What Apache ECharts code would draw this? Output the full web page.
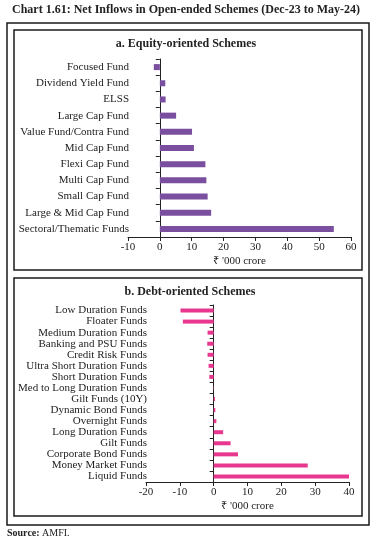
<!DOCTYPE html>
<html>
<head>
<meta charset="utf-8">
<script src="https://cdn.jsdelivr.net/npm/echarts@6/dist/echarts.min.js"></script>
<style>
  html, body { margin: 0; padding: 0; background: #fff; }
  #chart { width: 377px; height: 545px; }
</style>
</head>
<body>
<div id="chart"></div>
<script>
var myChart = echarts.init(document.getElementById('chart'));

// panel a: equity-oriented (top to bottom)
var equityNames = ['Focused Fund', 'Dividend Yield Fund', 'ELSS', 'Large Cap Fund',
  'Value Fund/Contra Fund', 'Mid Cap Fund', 'Flexi Cap Fund', 'Multi Cap Fund',
  'Small Cap Fund', 'Large & Mid Cap Fund', 'Sectoral/Thematic Funds'];
var equityValues = [-1.9, 1.7, 1.8, 5.1, 10.1, 10.7, 14.3, 14.6, 15.0, 16.1, 54.6];

// panel b: debt-oriented (top to bottom)
var debtNames = ['Low Duration Funds', 'Floater Funds', 'Medium Duration Funds',
  'Banking and PSU Funds', 'Credit Risk Funds', 'Ultra Short Duration Funds',
  'Short Duration Funds', 'Med to Long Duration Funds', 'Gilt Funds (10Y)',
  'Dynamic Bond Funds', 'Overnight Funds', 'Long Duration Funds', 'Gilt Funds',
  'Corporate Bond Funds', 'Money Market Funds', 'Liquid Funds'];
var debtValues = [-9.8, -9.1, -1.8, -1.9, -1.8, -1.5, -1.3, -0.1, 0.4, 0.5, 0.8,
  2.8, 5.0, 7.2, 27.8, 40.2];

var font = 'Liberation Serif';
var txt = '#222';

function frame(x, y, w, h) {
  return {
    type: 'rect', silent: true,
    shape: { x: x, y: y, width: w, height: h },
    style: { fill: 'none', stroke: '#1a1a1a', lineWidth: 1.5 }
  };
}

function valueAxis(idx, min, max) {
  return {
    type: 'value', gridIndex: idx, min: min, max: max, interval: 10,
    name: "₹ '000 crore", nameLocation: 'middle', nameGap: 19,
    nameTextStyle: { fontFamily: font, fontSize: 11, color: txt },
    axisLine: { show: true, lineStyle: { color: '#222' } },
    axisTick: { show: true, length: 4, lineStyle: { color: '#222' } },
    axisLabel: { fontFamily: font, fontSize: 11, color: txt, margin: 5 },
    splitLine: { show: false }
  };
}

function catAxis(idx, names, margin) {
  return {
    type: 'category', gridIndex: idx, data: names, inverse: true,
    axisLine: { onZero: true, lineStyle: { color: '#222' } },
    axisTick: { show: true, length: 4, lineStyle: { color: '#222' } },
    axisLabel: { fontFamily: font, fontSize: 11, color: txt, margin: margin, interval: 0 }
  };
}

var option = {
  animation: false,
  textStyle: { fontFamily: font },
  title: [
    { text: 'Chart 1.61: Net Inflows in Open-ended Schemes (Dec-23 to May-24)',
      left: 12, top: 4, padding: 0,
      textStyle: { fontFamily: font, fontSize: 12, fontWeight: 'bold', color: txt } },
    { text: 'a. Equity-oriented Schemes', left: 186, top: 38, padding: 0, textAlign: 'center',
      textStyle: { fontFamily: font, fontSize: 12, fontWeight: 'bold', color: txt } },
    { text: 'b. Debt-oriented Schemes', left: 190, top: 286, padding: 0, textAlign: 'center',
      textStyle: { fontFamily: font, fontSize: 12, fontWeight: 'bold', color: txt } },
    { text: '{b|Source:} AMFI.', left: 7, top: 528, padding: 0,
      textStyle: { fontFamily: font, fontSize: 10, fontWeight: 'normal', color: txt,
        rich: { b: { fontFamily: font, fontSize: 10, fontWeight: 'bold', color: txt } } } }
  ],
  graphic: [
    frame(7, 23, 362, 502),
    frame(14, 30, 348, 240),
    frame(14, 278, 348, 238)
  ],
  grid: [
    { left: 128, right: 26, top: 59, bottom: 308, outerBoundsMode: 'none', containLabel: false },
    { left: 146, right: 28, top: 305, bottom: 63, outerBoundsMode: 'none', containLabel: false }
  ],
  xAxis: [valueAxis(0, -10, 60), valueAxis(1, -20, 40)],
  yAxis: [catAxis(0, equityNames, -1), catAxis(1, debtNames, -1)],
  series: [
    { name: 'Equity', type: 'bar', xAxisIndex: 0, yAxisIndex: 0,
      data: equityValues, barWidth: 6, itemStyle: { color: '#7b4f9f' } },
    { name: 'Debt', type: 'bar', xAxisIndex: 1, yAxisIndex: 1,
      data: debtValues, barWidth: 4, itemStyle: { color: '#e8378e' } }
  ]
};

myChart.setOption(option, true);
</script>
</body>
</html>
